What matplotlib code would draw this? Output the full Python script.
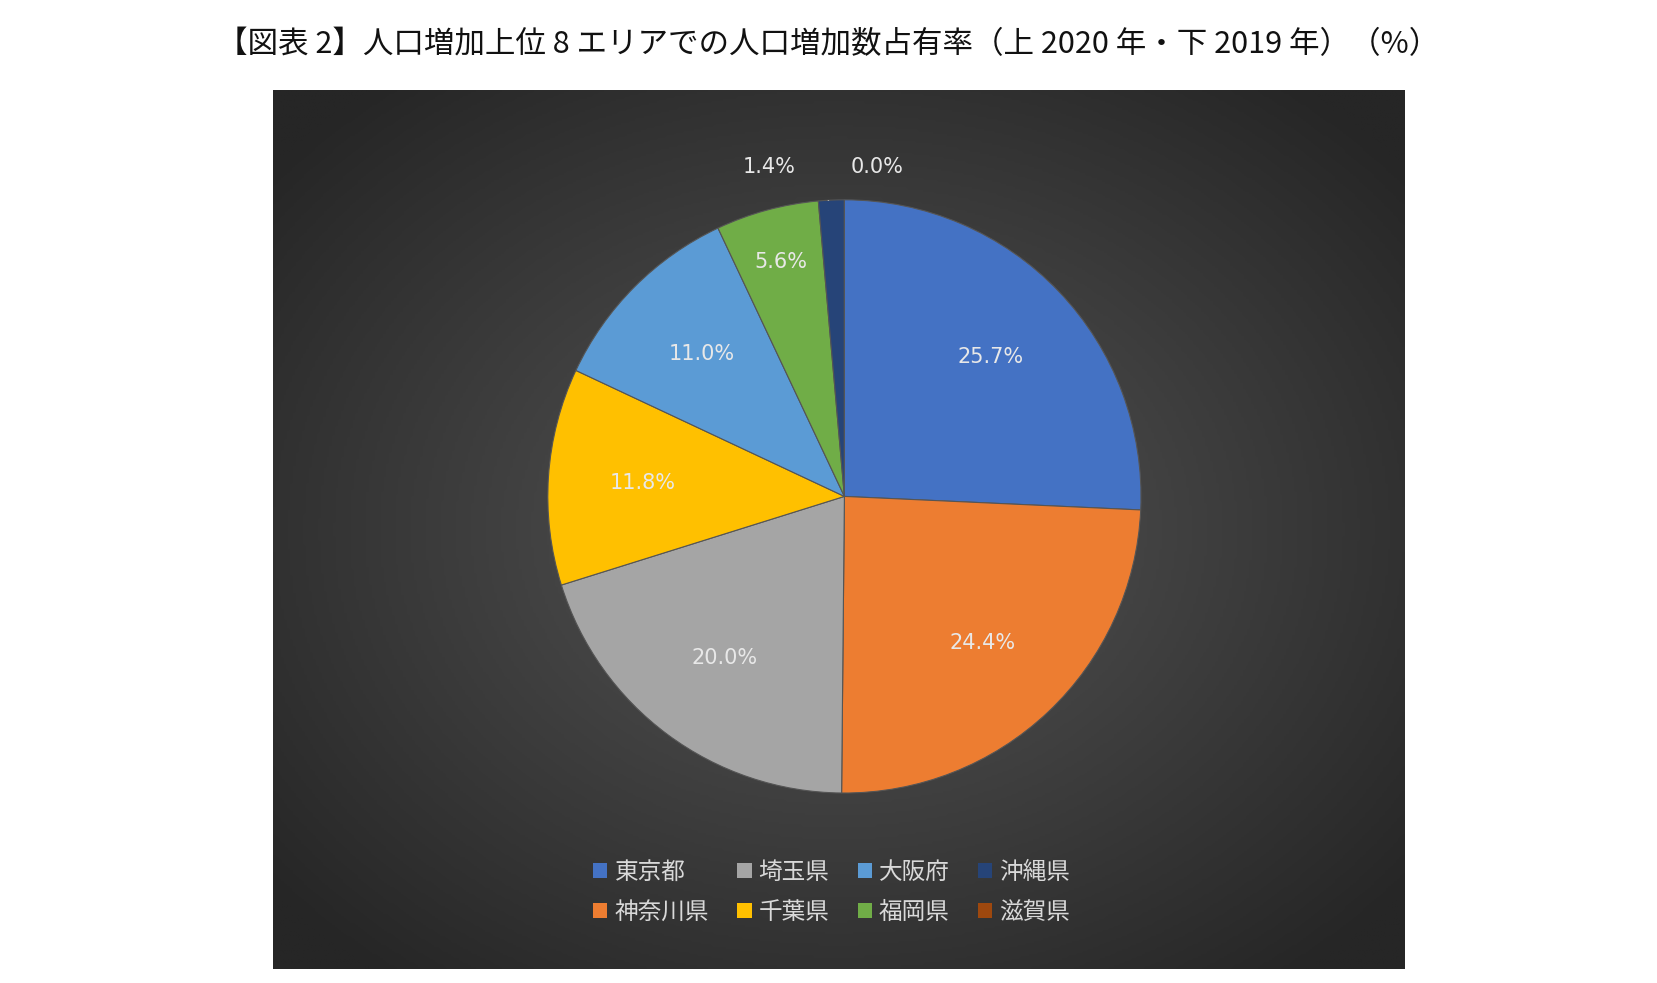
import numpy as np
import matplotlib.pyplot as plt
from matplotlib.patches import Patch

plt.rcParams['font.family'] = 'Noto Sans CJK JP'

areas = ['東京都', '神奈川県', '埼玉県', '千葉県', '大阪府', '福岡県', '沖縄県', '滋賀県']
shares = [25.7, 24.4, 20.0, 11.8, 11.0, 5.6, 1.4, 0.0]
colors = ['#4472C4', '#ED7D31', '#A5A5A5', '#FFC000', '#5B9BD5', '#70AD47', '#264478', '#9E480E']
title = '【図表 2】人口増加上位 8 エリアでの人口増加数占有率（上 2020 年・下 2019 年）（%）'

fig = plt.figure(figsize=(16.57, 9.83), dpi=100)
fig.text(0.5, 0.955, title, ha='center', va='center', fontsize=22, color='#111111')

# dark panel with radial gradient
bg = fig.add_axes([0.165, 0.014, 0.683, 0.894])
yy, xx = np.mgrid[-1:1:400j, -1:1:400j]
r = np.sqrt(xx**2 + yy**2)
bg.imshow(np.clip(r / 1.3, 0, 1), cmap=plt.matplotlib.colors.LinearSegmentedColormap.from_list(
    'g', ['#565656', '#262626']), extent=[0, 1, 0, 1], aspect='auto')
bg.set_axis_off()

ax = fig.add_axes([0.5096 - 0.179, 0.495 - 0.303, 0.358, 0.606])
wedges, _ = ax.pie(shares, colors=colors, startangle=90, counterclock=False,
                   wedgeprops=dict(edgecolor='#555555', linewidth=0.8))
ax.set_aspect('equal')
ax.set_xlim(-1, 1)
ax.set_ylim(-1, 1)
ax.set_axis_off()

for w, v in zip(wedges, shares):
    mid = np.deg2rad((w.theta1 + w.theta2) / 2)
    lab = f'{v:.1f}%'
    if v >= 5:
        d = 0.68 if v > 10 else 0.82
        ax.text(d * np.cos(mid), d * np.sin(mid), lab, ha='center', va='center',
                fontsize=15, color='#E8E8E8', family='DejaVu Sans')
    elif v > 0:
        x0, y0 = np.cos(mid), np.sin(mid)
        ax.plot([x0 - 0.01, x0 - 0.03, x0 - 0.1], [y0, y0 + 0.11, y0 + 0.11], color='#BBBBBB', lw=1)
        ax.text(x0 - 0.12, y0 + 0.11, lab, ha='right', va='center', fontsize=15,
                color='#E8E8E8', family='DejaVu Sans')
    else:
        ax.text(0.02, 1.11, lab, ha='left', va='center', fontsize=15,
                color='#E8E8E8', family='DejaVu Sans')

handles = [Patch(facecolor=c, edgecolor='none') for c in colors]
leg = fig.legend(handles, areas, loc='center', bbox_to_anchor=(0.502, 0.092), ncol=4,
                 frameon=False, fontsize=17, handlelength=0.6, handleheight=0.6,
                 handletextpad=0.3, columnspacing=1.2, labelspacing=0.7)
for t in leg.get_texts():
    t.set_color('#D9D9D9')

fig.savefig('out.png', dpi=100)
